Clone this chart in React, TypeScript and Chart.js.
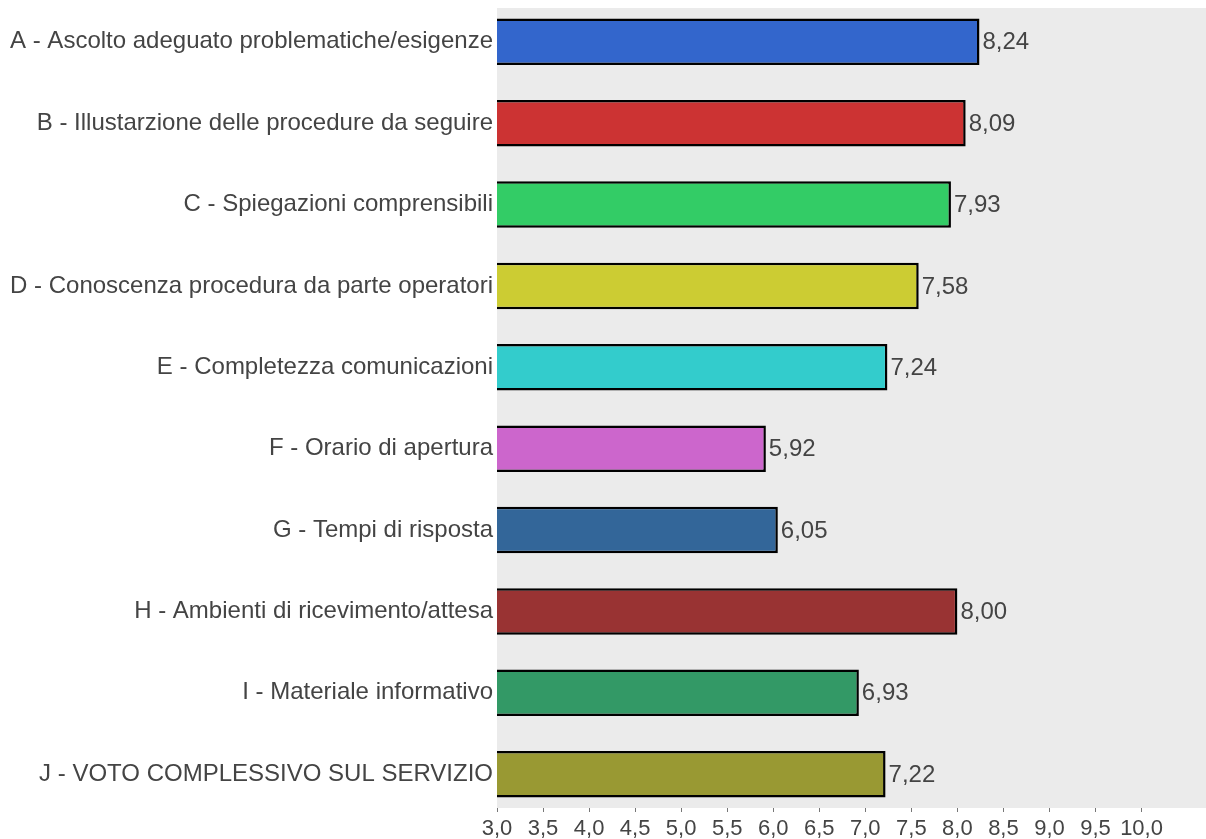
import React, { useEffect, useRef } from "react";
import { Chart, registerables } from "chart.js";

Chart.register(...registerables);

const categories = [
  "A - Ascolto adeguato problematiche/esigenze",
  "B - Illustarzione delle procedure da seguire",
  "C - Spiegazioni comprensibili",
  "D - Conoscenza procedura da parte operatori",
  "E - Completezza comunicazioni",
  "F - Orario di apertura",
  "G - Tempi di risposta",
  "H - Ambienti di ricevimento/attesa",
  "I - Materiale informativo",
  "J - VOTO COMPLESSIVO SUL SERVIZIO",
];

const scores = [8.24, 8.09, 7.93, 7.58, 7.24, 5.92, 6.05, 8.0, 6.93, 7.22];

const barColors = [
  "#3366CC",
  "#CC3333",
  "#33CC66",
  "#CCCC33",
  "#33CCCC",
  "#CC66CC",
  "#336699",
  "#993333",
  "#339966",
  "#999933",
];

const xTickValues = [3, 3.5, 4, 4.5, 5, 5.5, 6, 6.5, 7, 7.5, 8, 8.5, 9, 9.5, 10];

const TEXT_COLOR = "#444444";
const FONT_FAMILY = "'Liberation Sans', Arial, sans-serif";

const fmt = (v: number, digits: number) => v.toFixed(digits).replace(".", ",");

// Grey panel behind the plotting area
const panelBackground = {
  id: "panelBackground",
  beforeDraw(chart: any) {
    const { ctx, chartArea } = chart;
    ctx.save();
    ctx.fillStyle = "#EBEBEB";
    ctx.fillRect(chartArea.left, chartArea.top, chartArea.right - chartArea.left, chartArea.bottom - chartArea.top);
    ctx.restore();
  },
};

// Value written just past the end of each bar
const valueLabels = {
  id: "valueLabels",
  afterDatasetsDraw(chart: any) {
    const { ctx } = chart;
    const meta = chart.getDatasetMeta(0);
    ctx.save();
    ctx.font = `24px ${FONT_FAMILY}`;
    ctx.fillStyle = TEXT_COLOR;
    ctx.textAlign = "left";
    ctx.textBaseline = "middle";
    meta.data.forEach((bar: any, i: number) => {
      ctx.fillText(fmt(scores[i], 2), bar.x + 3, bar.y + 1);
    });
    ctx.restore();
  },
};

export default function App() {
  const canvasRef = useRef<HTMLCanvasElement | null>(null);

  useEffect(() => {
    if (!canvasRef.current) return;
    const chart = new Chart(canvasRef.current, {
      type: "bar",
      data: {
        datasets: [
          {
            data: scores.map((v, i) => ({ x: v, y: i })),
            backgroundColor: barColors,
            borderColor: "#000000",
            borderWidth: 2.5,
            borderSkipped: "start",
            barPercentage: 0.572,
            categoryPercentage: 1,
          },
        ],
      },
      options: {
        indexAxis: "y",
        animation: false,
        responsive: true,
        maintainAspectRatio: false,
        layout: { padding: { top: 8, left: 0, right: 0, bottom: 0 } },
        plugins: {
          legend: { display: false },
          tooltip: { enabled: false },
        },
        scales: {
          x: {
            type: "linear",
            min: 3,
            max: 10.7,
            afterBuildTicks(scale: any) {
              scale.ticks = xTickValues.map((v) => ({ value: v }));
            },
            afterFit(scale: any) {
              scale.height = 31;
              scale.paddingLeft = 0;
              scale.paddingRight = 0;
            },
            grid: {
              drawOnChartArea: false,
              drawTicks: true,
              tickLength: 4,
              color: "#777777",
            },
            border: { display: false },
            ticks: {
              padding: 4,
              color: TEXT_COLOR,
              font: { size: 22, family: FONT_FAMILY },
              maxRotation: 0,
              autoSkip: false,
              callback: (v: any) => fmt(Number(v), 1),
            },
          },
          y: {
            type: "linear",
            reverse: true,
            offset: false,
            min: -0.415,
            max: 9.415,
            afterBuildTicks(scale: any) {
              scale.ticks = categories.map((_, i) => ({ value: i }));
            },
            afterFit(scale: any) {
              scale.width = 497;
              scale.paddingTop = 0;
              scale.paddingBottom = 0;
            },
            grid: { display: false, drawTicks: false, offset: false },
            border: { display: false },
            ticks: {
              padding: 4,
              color: TEXT_COLOR,
              font: { size: 24, family: FONT_FAMILY },
              autoSkip: false,
              callback: (v: any) => categories[Math.round(Number(v))] ?? "",
            },
          },
        },
      },
      plugins: [panelBackground, valueLabels],
    });
    return () => chart.destroy();
  }, []);

  return (
    <div style={{ position: "fixed", left: 0, top: 0, width: 1206, height: 839, background: "#ffffff" }}>
      <canvas ref={canvasRef} />
    </div>
  );
}
